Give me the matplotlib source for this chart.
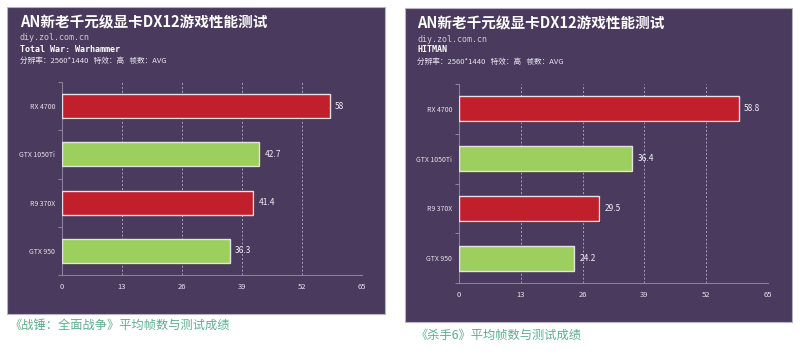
import matplotlib.pyplot as plt
from matplotlib.patches import Rectangle
import matplotlib.patheffects as pe

plt.rcParams['font.family'] = ['Noto Sans CJK SC', 'DejaVu Sans']

# 数据
gpus = ['RX 4700', 'GTX 1050Ti', 'R9 370X', 'GTX 950']
bar_colors = ['#c01f2b', '#9ccf5d', '#c01f2b', '#9ccf5d']
warhammer_fps = [58, 42.7, 41.4, 36.3]
hitman_fps = [58.8, 36.4, 29.5, 24.2]
x_ticks = [0, 13, 26, 39, 52, 65]

title = 'AN新老千元级显卡DX12游戏性能测试'
site = 'diy.zol.com.cn'
setting = '分辨率：2560*1440   特效：高   帧数：AVG'
games = ['Total War: Warhammer', 'HITMAN']
captions = ['《战锤：全面战争》平均帧数与测试成绩', '《杀手6》平均帧数与测试成绩']

W, H = 800, 353
bg = '#4a3a5d'
fig = plt.figure(figsize=(W / 100, H / 100), dpi=100)
fig.patch.set_facecolor('white')


def fx(px):
    return px / W


def fy(py):
    return 1 - py / H


# 面板位置 (像素: 左, 上, 右, 下)
panels = [(7, 7, 385, 314), (405, 8, 792, 322)]
axes_px = [(62, 82, 362, 275), (459, 84, 768, 283)]
text_x = [20, 417]
text_y0 = [22, 23]
caption_pos = [(10, 325), (416, 335)]

for i, data in enumerate([warhammer_fps, hitman_fps]):
    l, t, r, b = panels[i]
    fig.patches.append(Rectangle((fx(l), fy(b)), fx(r - l), (b - t) / H,
                                 transform=fig.transFigure, facecolor=bg,
                                 edgecolor='#b8b4bc', linewidth=0.8, zorder=-5))
    x0 = text_x[i]
    y0 = text_y0[i]
    fig.text(fx(x0), fy(y0), title, color='white', fontsize=10.5, fontweight='bold',
             va='center', ha='left')
    fig.text(fx(x0), fy(y0 + 16), site, color='#cfc8d8', fontsize=6,
             family='DejaVu Sans Mono', va='center', ha='left')
    fig.text(fx(x0), fy(y0 + 27), games[i], color='white', fontsize=6,
             family='DejaVu Sans Mono', fontweight='bold', va='center', ha='left')
    fig.text(fx(x0), fy(y0 + 39), setting, color='#e8e4ee', fontsize=5.5,
             va='center', ha='left')

    cx, cy = caption_pos[i]
    fig.text(fx(cx), fy(cy), captions[i], color='#5fae8e', fontsize=8.8,
             va='center', ha='left')

    al, at, ar, ab = axes_px[i]
    ax = fig.add_axes([fx(al), fy(ab), fx(ar - al), (ab - at) / H])
    ax.set_facecolor('none')
    ax.set_zorder(2)
    ypos = list(range(len(gpus)))[::-1]
    bars = ax.barh(ypos, data, height=0.5, color=bar_colors,
                   edgecolor='#e8e0e6', linewidth=1.0, zorder=3)
    for bar in bars:
        bar.set_path_effects([pe.SimplePatchShadow(offset=(1.3, -1.3), alpha=0.6),
                              pe.Normal()])
    for y, v in zip(ypos, data):
        ax.text(v + 1.2, y, f'{v:g}', color='#f0eef4', fontsize=6,
                va='center', ha='left')
    ax.set_xlim(0, 65)
    ax.set_ylim(-0.5, len(gpus) - 0.5)
    ax.set_xticks(x_ticks)
    ax.set_xticklabels([str(v) for v in x_ticks])
    ax.set_yticks(ypos)
    ax.set_yticklabels(gpus)
    ax.set_yticks([-0.5, 0.5, 1.5, 2.5, 3.5], minor=True)
    ax.tick_params(axis='x', length=0, pad=6, labelsize=5.5, colors='#e6e2ea')
    ax.tick_params(axis='y', which='major', length=0, pad=5, labelsize=5, colors='#e6e2ea')
    ax.tick_params(axis='y', which='minor', length=3, color='#8a7f98', width=0.8)
    ax.grid(axis='x', linestyle=(0, (2, 2)), color='#a99fb6', linewidth=0.7, zorder=1)
    for s in ['top', 'right']:
        ax.spines[s].set_visible(False)
    ax.spines['left'].set_color('#8a7f98')
    ax.spines['bottom'].set_color('#8a7f98')
    ax.spines['left'].set_linewidth(0.8)
    ax.spines['bottom'].set_linewidth(0.8)

fig.savefig('out.png', dpi=100, facecolor='white')
